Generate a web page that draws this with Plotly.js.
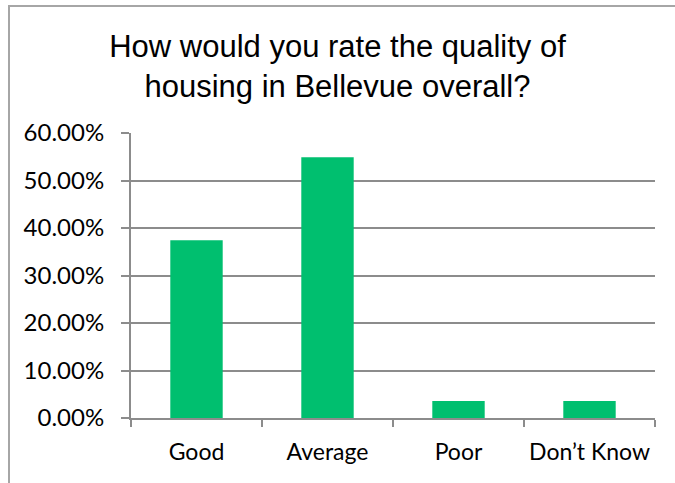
<!DOCTYPE html>
<html><head><meta charset="utf-8">
<script src="https://cdn.plot.ly/plotly-3.0.1.min.js"></script>
<style>
html,body{margin:0;padding:0;background:#fff;}
#frame{position:absolute;left:8px;top:5px;width:675px;height:490px;border:2px solid #a6a6a6;box-sizing:border-box;}
#chart{position:absolute;left:0;top:0;width:675px;height:483px;}
</style></head>
<body>
<div id="frame"></div>
<div id="chart"></div>
<script>
const categories = ["Good", "Average", "Poor", "Don\u2019t Know"];
const values = [0.374, 0.549, 0.036, 0.036];
const yTickVals = [0, 0.1, 0.2, 0.3, 0.4, 0.5, 0.6];
const yTickText = ["0.00%", "10.00%", "20.00%", "30.00%", "40.00%", "50.00%", "60.00%"];
const titleText = "How would you rate the quality of<br>housing in Bellevue overall?";

const trace = {
  type: "bar", x: categories, y: values,
  marker: {color: "#00bf6f"}, hoverinfo: "none"
};
const layout = {
  width: 675, height: 483,
  paper_bgcolor: "rgba(0,0,0,0)", plot_bgcolor: "rgba(0,0,0,0)",
  margin: {l: 131, r: 20, t: 133, b: 65},
  bargap: 0.6,
  showlegend: false,
  title: {text: titleText, font: {family: "Liberation Sans, Arial", size: 31, color: "#000"},
          x: 0.5, xanchor: "center", y: 0.882, yanchor: "middle"},
  xaxis: {
    showline: true, linecolor: "#8c8c8c", linewidth: 2,
    ticks: "outside", ticklen: 7, tickcolor: "#8c8c8c", tickwidth: 2,
    tickson: "boundaries", showgrid: false, ticklabelstandoff: 12, tickangle: 0,
    automargin: false,
    tickfont: {family: "Lato, Open Sans", size: 23, color: "#000"},
    fixedrange: true
  },
  yaxis: {
    range: [0, 0.6], tickvals: yTickVals, ticktext: yTickText,
    showline: true, linecolor: "#8c8c8c", linewidth: 2,
    ticks: "outside", ticklen: 8, tickcolor: "#8c8c8c", tickwidth: 2,
    showgrid: true, gridcolor: "#8c8c8c", gridwidth: 2,
    zeroline: false, ticklabelstandoff: 12, automargin: false,
    tickfont: {family: "Lato, Open Sans", size: 24, color: "#000"},
    fixedrange: true
  }
};
Plotly.newPlot("chart", [trace], layout, {displayModeBar: false, staticPlot: true});
</script>
</body></html>
